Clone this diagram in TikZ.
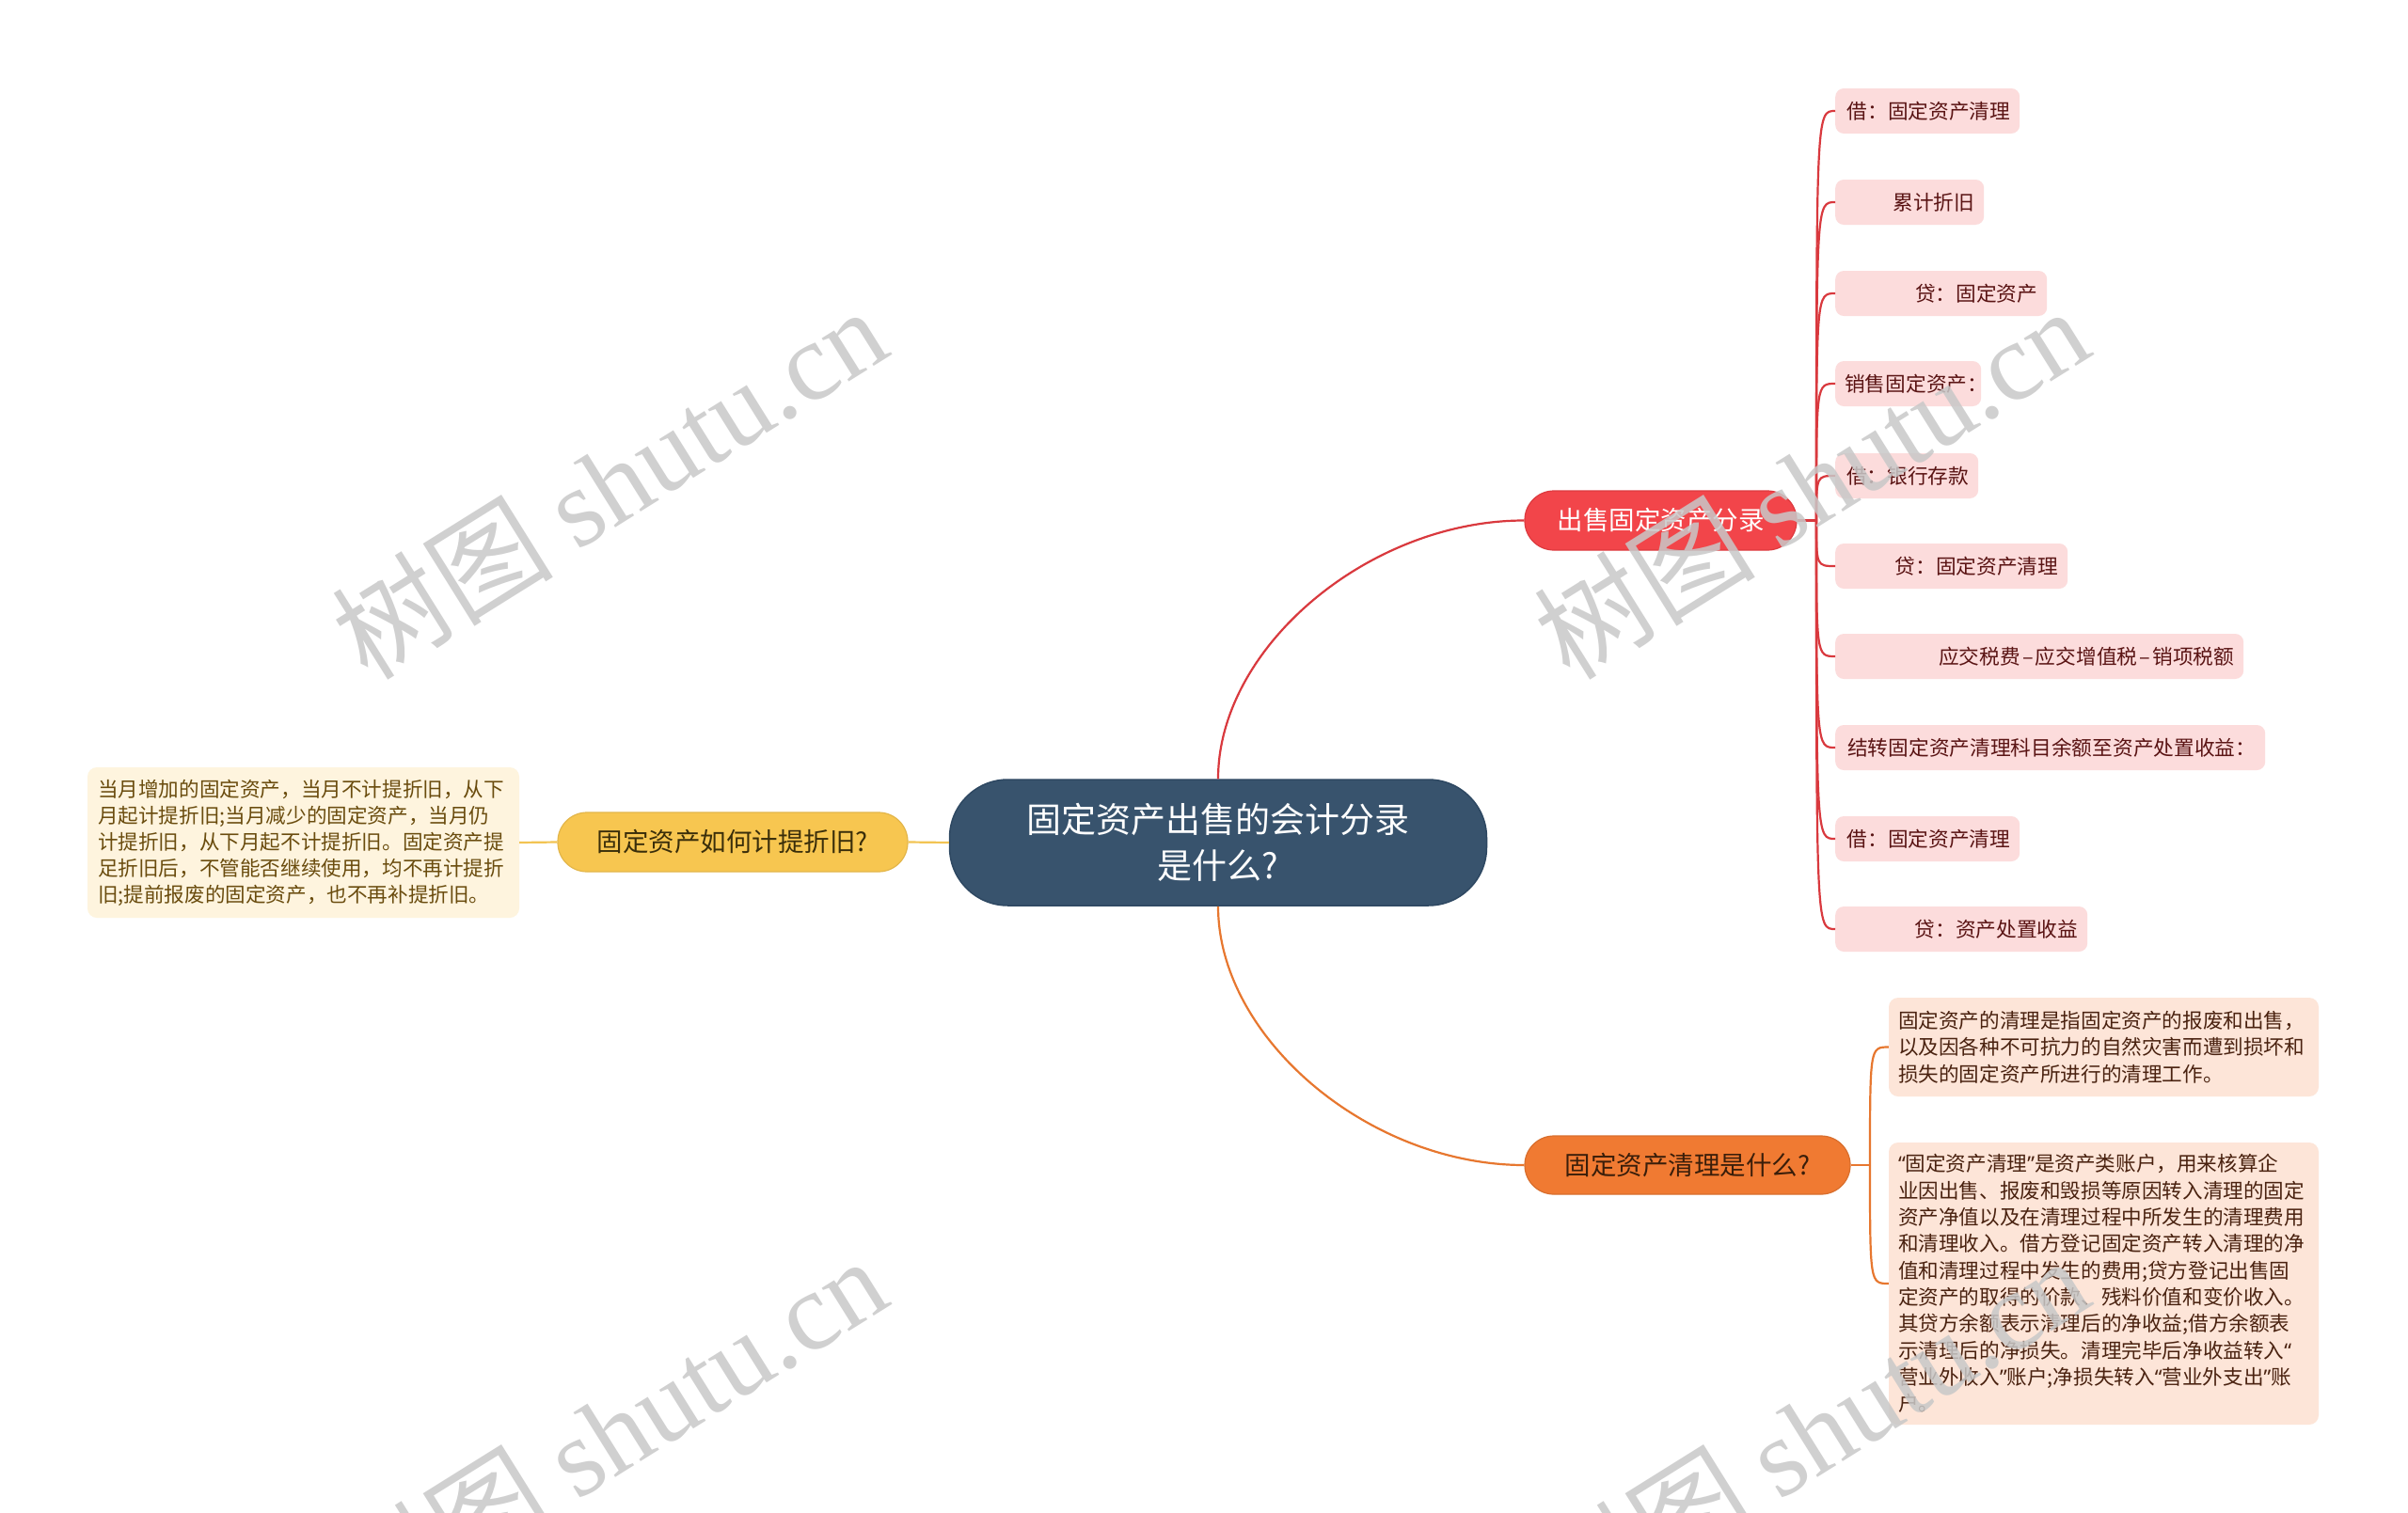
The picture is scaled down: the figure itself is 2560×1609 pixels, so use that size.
\documentclass[tikz,border=0pt]{standalone}
\usepackage{fontspec}
\setmainfont{Noto Sans CJK SC}
\newfontfamily\wmserif{Liberation Serif}
\newfontfamily\qfont{Noto Sans}
\newcommand\myoq{{\qfont “}}
\newcommand\mycq{{\qfont ”}}
\newcommand\mydash{\kern0.1em–\kern0.1em}
\usetikzlibrary{calc}
\definecolor{cfill}{HTML}{38536D}
\definecolor{cdraw}{HTML}{2E4862}
\definecolor{rfill}{HTML}{F2454A}
\definecolor{rdraw}{HTML}{DD3A3F}
\definecolor{rline}{HTML}{D9393E}
\definecolor{lfill}{HTML}{FCDCDC}
\definecolor{ltext}{HTML}{5A1414}
\definecolor{ofill}{HTML}{F07A32}
\definecolor{oline}{HTML}{E7772F}
\definecolor{otext}{HTML}{3A1E0A}
\definecolor{obox}{HTML}{FDE5D8}
\definecolor{obtext}{HTML}{4A2210}
\definecolor{yfill}{HTML}{F7C650}
\definecolor{yline}{HTML}{F2C453}
\definecolor{ytext}{HTML}{3A2E0A}
\definecolor{ybox}{HTML}{FEF4DE}
\definecolor{ybtext}{HTML}{6A4C0E}
\definecolor{wmgray}{HTML}{C8C8C8}
\tikzset{
  centernode/.style={fill=cfill, draw=cdraw, line width=1.5pt, rounded corners=62pt,
    minimum width=571pt, minimum height=134pt, text=white, align=center,
    font=\fontsize{37}{49}\selectfont, inner sep=0pt},
  mainred/.style={fill=rfill, draw=rdraw, line width=1.2pt, rounded corners=31pt,
    minimum width=289pt, minimum height=63pt, text=white, inner sep=0pt,
    font=\fontsize{27.5}{33}\selectfont},
  mainorange/.style={fill=ofill, draw=ofill!90!black, line width=1.2pt, rounded corners=31pt,
    minimum width=346pt, minimum height=62pt, text=otext, inner sep=0pt,
    font=\fontsize{27.5}{33}\selectfont},
  mainyellow/.style={fill=yfill, draw=yfill!92!black, line width=1.2pt, rounded corners=31pt,
    minimum width=372pt, minimum height=63pt, text=ytext, inner sep=0pt,
    font=\fontsize{27.5}{33}\selectfont},
  leafbox/.style={fill=lfill, draw=none, rounded corners=9pt, minimum height=48pt,
    inner xsep=10pt, inner ysep=0pt, align=right, text=ltext, anchor=west,
    font=\fontsize{21.7}{26}\selectfont},
  obtextbox/.style={fill=obox, draw=none, rounded corners=10pt, inner xsep=10pt, inner ysep=0pt,
    text width=437pt, align=left, text=obtext, font=\fontsize{21.6}{28.3}\selectfont},
  ybtextbox/.style={fill=ybox, draw=none, rounded corners=10pt, inner xsep=11pt, inner ysep=0pt,
    text width=437pt, align=left, text=ybtext, font=\fontsize{21.6}{28}\selectfont},
  redline/.style={draw=rline, line width=2.2pt},
  orangeline/.style={draw=oline, line width=2.2pt},
  yellowline/.style={draw=yline, line width=2.2pt},
  wm/.style={text=wmgray, opacity=0.85, inner sep=0pt, font=\fontsize{118}{120}\selectfont}
}
\begin{document}
\begin{tikzpicture}[x=1pt,y=-1pt]
\useasboundingbox (0,0) rectangle (2560,1609);
\fill[white] (0,0) rectangle (2560,1609);

% main nodes
\node[centernode] (c) at (1295,896) {固定资产出售的会计分录\\是什么?};
\node[mainred] (r) at (1765.5,553.5) {出售固定资产分录};
\node[mainorange] (o) at (1794,1239) {固定资产清理是什么?};
\node[mainyellow] (y) at (779,895.5) {固定资产如何计提折旧?};

% left text box
\node[ybtextbox, minimum height=160pt] (lb) at (322.5,896) {当月增加的固定资产，当月不计提折旧，从下\\月起计提折旧;当月减少的固定资产，当月仍\\计提折旧，从下月起不计提折旧。固定资产提\\足折旧后，不管能否继续使用，均不再计提折\\旧;提前报废的固定资产，也不再补提折旧。};

% red leaves
\node[leafbox, text width=196pt-20pt] (l1) at (1951,118) {借：固定资产清理};
\node[leafbox, text width=158pt-20pt] (l2) at (1951,215) {累计折旧};
\node[leafbox, text width=225pt-20pt] (l3) at (1951,312) {贷：固定资产};
\node[leafbox, text width=155pt-20pt] (l4) at (1951,408) {销售固定资产：};
\node[leafbox, text width=152pt-20pt] (l5) at (1951,506) {借：银行存款};
\node[leafbox, text width=247pt-20pt] (l6) at (1951,602) {贷：固定资产清理};
\node[leafbox, text width=434pt-20pt] (l7) at (1951,698) {应交税费\mydash 应交增值税\mydash 销项税额};
\node[leafbox, text width=457pt-20pt] (l8) at (1951,795) {结转固定资产清理科目余额至资产处置收益：};
\node[leafbox, text width=196pt-20pt] (l9) at (1951,892) {借：固定资产清理};
\node[leafbox, text width=268pt-20pt] (l10) at (1951,988) {贷：资产处置收益};

% orange text boxes
\node[obtextbox, minimum height=105pt] (oa) at (2236.5,1113.5) {固定资产的清理是指固定资产的报废和出售，\\以及因各种不可抗力的自然灾害而遭到损坏和\\损失的固定资产所进行的清理工作。};
\node[obtextbox, minimum height=300pt] (ob) at (2236.5,1365) {\myoq 固定资产清理\mycq 是资产类账户，用来核算企\\业因出售、报废和毁损等原因转入清理的固定\\资产净值以及在清理过程中所发生的清理费用\\和清理收入。借方登记固定资产转入清理的净\\值和清理过程中发生的费用;贷方登记出售固\\定资产的取得的价款、残料价值和变价收入。\\其贷方余额表示清理后的净收益;借方余额表\\示清理后的净损失。清理完毕后净收益转入\myoq\\营业外收入\mycq 账户;净损失转入\myoq 营业外支出\mycq 账\\户。};

% connectors
\coordinate (rt) at (1931,553.5);
\coordinate (ot) at (1988,1239);
\draw[redline] (c.north) .. controls +(0,-140) and +(-165,0) .. (r.west);
\draw[orangeline] (c.south) .. controls +(0,140) and +(-165,0) .. (o.west);
\draw[yellowline] (c.west) -- (y.east);
\draw[yellowline] (y.west) -- (lb.east);
\draw[redline] (r.east) -- (rt);
\foreach \i in {1,...,10}{
  \draw[redline] (rt) .. controls (rt |- l\i.west) .. (l\i.west);
}
\draw[orangeline] (o.east) -- (ot);
\draw[orangeline] (ot) .. controls (ot |- oa.west) .. (oa.west);
\draw[orangeline] (ot) .. controls (ot |- ob.west) .. (ob.west);

% watermarks
\node[wm, rotate=32] (w1) at (647,513) {树图 {\wmserif shutu.cn}};
\node[wm, rotate=32] (w2) at (1925,513) {树图 {\wmserif shutu.cn}};
\node[wm, rotate=32] (w3) at (647,1523) {树图 {\wmserif shutu.cn}};
\node[wm, rotate=32] (w4) at (1925,1523) {树图 {\wmserif shutu.cn}};
\end{tikzpicture}
\end{document}
